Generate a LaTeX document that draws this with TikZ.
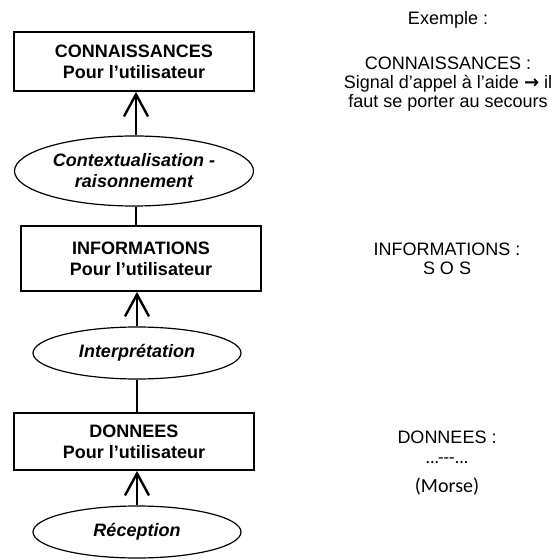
\documentclass[tikz,border=0pt]{standalone}
\usepackage{fontspec}
\setmainfont{Liberation Sans}
\newfontfamily\calibri{Carlito}
\newfontfamily\dejavu{DejaVu Sans}
\usetikzlibrary{shapes.geometric,arrows.meta}

\tikzset{
  boite/.style={draw, line width=0.9pt, minimum width=120pt, align=center,
    inner sep=0pt, font=\fontsize{9}{10.5}\selectfont\bfseries},
  bulle/.style={draw, ellipse, line width=0.6pt, align=center, inner sep=0pt,
    font=\fontsize{9}{10.5}\selectfont\bfseries\itshape},
  exemple/.style={align=center, inner sep=0pt, font=\fontsize{9}{9.3}\selectfont},
  fleche/.style={line width=1.2pt, -{Straight Barb[length=11pt,width=12pt]}},
  trait/.style={line width=1.2pt}
}

\begin{document}
\begin{tikzpicture}[x=0.5pt,y=-0.5pt]
      \useasboundingbox (0,0) rectangle (555,560);
      % schema
      \node[boite, minimum height=29.5pt] (conn) at (134,61.5) {CONNAISSANCES\\Pour l'utilisateur};
      \node[bulle, minimum width=119.5pt, minimum height=35pt] (ctx) at (134,171) {Contextualisation -\\raisonnement};
      \node[boite, minimum height=32.5pt] (info) at (141,258.5) {INFORMATIONS\\Pour l'utilisateur};
      \node[bulle, minimum width=104pt, minimum height=26pt] (interp) at (137,353) {Interprétation};
      \node[boite, minimum height=28.5pt] (donn) at (134,441.5) {DONNEES\\Pour l'utilisateur};
      \node[bulle, minimum width=104pt, minimum height=26pt] (recep) at (137,532) {Réception};
      \draw[fleche] ([xshift=1pt]ctx.north) -- ([xshift=1pt]ctx.north |- conn.south);
      \draw[trait] ([xshift=1pt]ctx.south) -- ([xshift=1pt]ctx.south |- info.north);
      \draw[fleche] (interp.north) -- (interp.north |- info.south);
      \draw[trait] (interp.south) -- (interp.south |- donn.north);
      \draw[fleche] (recep.north) -- (recep.north |- donn.south);
      % exemple
      \node[exemple] (titre) at (448,20) {Exemple :};
      \node[exemple] (exconn) at (448,84) {CONNAISSANCES :\\Signal d'appel à l'aide {\dejavu\bfseries →} il\\faut se porter au secours};
      \node[exemple] (exinfo) at (447,259) {INFORMATIONS :\\S O S};
      \node[exemple] (exdonn) at (447,463) {DONNEES :\\[1pt]{\calibri ...{-}{-}{-}...}\\[5pt]{\calibri\fontsize{10}{11}\selectfont (Morse)}};
    \end{tikzpicture}
\end{document}
